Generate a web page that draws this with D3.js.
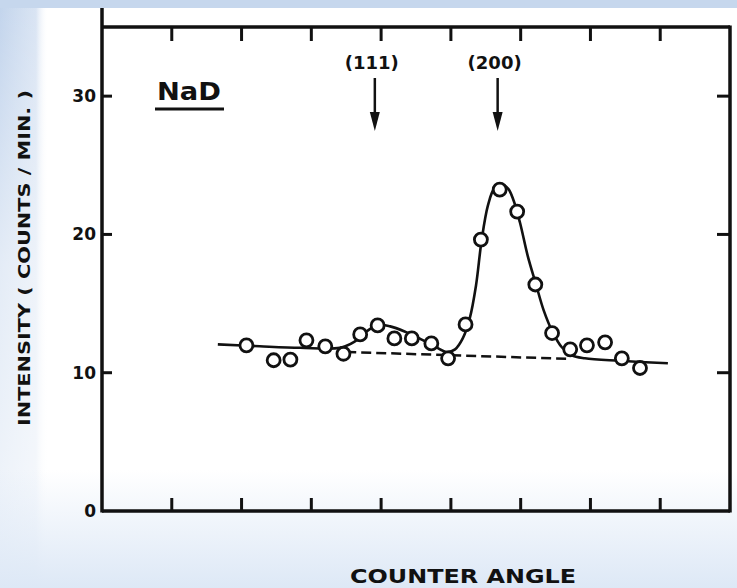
<!DOCTYPE html>
<html>
<head>
<meta charset="utf-8">
<script src="https://cdn.jsdelivr.net/npm/d3@7"></script>
<style>
  body { margin: 0; background: #ffffff; }
  svg { display: block; }
  .lbl { font-family: "DejaVu Sans", sans-serif; font-weight: bold; fill: #111; }
</style>
</head>
<body>
<svg id="chart" width="737" height="588"></svg>
<script>
// measured points (counter angle in tick units, counts/min)
var pointX = [2.07, 2.46, 2.70, 2.93, 3.20, 3.46, 3.70, 3.95, 4.19, 4.44, 4.72, 4.96,
              5.21, 5.43, 5.70, 5.95, 6.21, 6.45, 6.71, 6.95, 7.21, 7.45, 7.71];
var pointY = [11.98, 10.90, 10.95, 12.34, 11.91, 11.37, 12.77, 13.42, 12.48, 12.48, 12.12, 11.04,
              13.49, 19.63, 23.24, 21.65, 16.38, 12.87, 11.69, 11.98, 12.20, 11.04, 10.34];

// hand drawn fit curve
var curveX = [1.66, 2.26, 2.84, 3.41, 3.62, 3.77, 3.95, 4.13, 4.35, 4.56, 4.77, 4.94, 5.06,
              5.17, 5.27, 5.36, 5.44, 5.53, 5.62, 5.72, 5.82, 5.90, 5.99, 6.10, 6.22, 6.33,
              6.46, 6.59, 6.73, 6.92, 7.42, 8.11];
var curveY = [12.05, 11.91, 11.80, 11.80, 12.25, 12.90, 13.45, 13.35, 12.95, 12.45, 11.90, 11.50, 11.69,
              12.48, 13.93, 16.31, 19.56, 22.08, 23.31, 23.60, 23.31, 22.44, 20.86, 18.47, 16.38, 14.51,
              12.92, 11.84, 11.26, 11.04, 10.86, 10.68];

// dashed background under the peaks
var baseX = [3.5, 6.7];
var baseY = [11.5, 11.0];

var yTicks = [0, 10, 20, 30];
var xTicks = [1, 2, 3, 4, 5, 6, 7, 8];

var peakLabels = ["(111)", "(200)"];
var peakX = [3.91, 5.67];

var svg = d3.select("#chart");

// slide background
var defs = svg.append("defs");
var gSide = defs.append("linearGradient").attr("id", "side").attr("x1", 0).attr("y1", 0).attr("x2", 1).attr("y2", 0);
gSide.append("stop").attr("offset", "0").attr("stop-color", "#c2d4ec").attr("stop-opacity", 1);
gSide.append("stop").attr("offset", "0.75").attr("stop-color", "#c8d8ee").attr("stop-opacity", 0.7);
gSide.append("stop").attr("offset", "1").attr("stop-color", "#ffffff").attr("stop-opacity", 0);
var gFade = defs.append("linearGradient").attr("id", "fade").attr("x1", 0).attr("y1", 0).attr("x2", 0).attr("y2", 1);
gFade.append("stop").attr("offset", "0").attr("stop-color", "#ffffff").attr("stop-opacity", 0);
gFade.append("stop").attr("offset", "0.45").attr("stop-color", "#ffffff").attr("stop-opacity", 0.55);
gFade.append("stop").attr("offset", "1").attr("stop-color", "#ffffff").attr("stop-opacity", 0.8);
var gBottom = defs.append("linearGradient").attr("id", "bottom").attr("x1", 0).attr("y1", 0).attr("x2", 0).attr("y2", 1);
gBottom.append("stop").attr("offset", "0").attr("stop-color", "#dde8f6").attr("stop-opacity", 0);
gBottom.append("stop").attr("offset", "1").attr("stop-color", "#dde8f6").attr("stop-opacity", 1);

svg.append("rect").attr("x", 0).attr("y", 0).attr("width", 48).attr("height", 588).attr("fill", "url(#side)");
svg.append("rect").attr("x", 0).attr("y", 0).attr("width", 48).attr("height", 588).attr("fill", "url(#fade)");
svg.append("rect").attr("x", 0).attr("y", 470).attr("width", 737).attr("height", 118).attr("fill", "url(#bottom)");
svg.append("rect").attr("x", 0).attr("y", 0).attr("width", 737).attr("height", 8).attr("fill", "#c6d7ed");

// plot box (window.top is reserved, so keep these in an object)
var box = { left: 102, right: 730, top: 27, bottom: 511 };

var x = d3.scaleLinear().domain([0, 9]).range([box.left, box.right]);
var y = d3.scaleLinear().domain([0, 35]).range([box.bottom, box.top]);

var ink = "#111";

// frame
var frame = svg.append("g").attr("fill", "none").attr("stroke", ink).attr("stroke-width", 3.5);
frame.append("line").attr("x1", box.left).attr("x2", box.left).attr("y1", 8).attr("y2", box.bottom + 1.5);
frame.append("line").attr("x1", box.left).attr("x2", box.right).attr("y1", box.bottom).attr("y2", box.bottom);
frame.append("line").attr("x1", box.left).attr("x2", box.right).attr("y1", box.top).attr("y2", box.top);
frame.append("line").attr("x1", box.right).attr("x2", box.right).attr("y1", box.top - 1.5).attr("y2", box.bottom + 1.5);

// ticks, pointing inwards
var ticks = svg.append("g").attr("stroke", ink).attr("stroke-width", 3);
ticks.selectAll(".xb").data(xTicks).join("line")
  .attr("x1", d => x(d)).attr("x2", d => x(d))
  .attr("y1", box.bottom).attr("y2", box.bottom - 13);
ticks.selectAll(".xt").data(xTicks).join("line")
  .attr("x1", d => x(d)).attr("x2", d => x(d))
  .attr("y1", box.top).attr("y2", box.top + 14);
ticks.selectAll(".yl").data(yTicks.slice(1)).join("line")
  .attr("x1", box.left).attr("x2", box.left + 10)
  .attr("y1", d => y(d)).attr("y2", d => y(d));
ticks.selectAll(".yr").data(yTicks.slice(1)).join("line")
  .attr("x1", box.right).attr("x2", box.right - 13)
  .attr("y1", d => y(d)).attr("y2", d => y(d));

svg.selectAll(".ylab").data(yTicks).join("text")
  .attr("class", "lbl")
  .attr("x", box.left - 6)
  .attr("y", d => y(d) + 6)
  .attr("text-anchor", "end")
  .attr("font-size", 17)
  .text(d => d);

// dashed background line
svg.append("path")
  .datum(d3.range(baseX.length))
  .attr("fill", "none").attr("stroke", ink).attr("stroke-width", 2.5)
  .attr("stroke-dasharray", "10,5")
  .attr("d", d3.line().x(i => x(baseX[i])).y(i => y(baseY[i])));

// fit curve
svg.append("path")
  .datum(d3.range(curveX.length))
  .attr("fill", "none").attr("stroke", ink).attr("stroke-width", 2.6)
  .attr("d", d3.line().x(i => x(curveX[i])).y(i => y(curveY[i])).curve(d3.curveCatmullRom));

// data points
svg.selectAll(".pt").data(d3.range(pointX.length)).join("circle")
  .attr("cx", i => x(pointX[i]))
  .attr("cy", i => y(pointY[i]))
  .attr("r", 6.5)
  .attr("fill", "#fff").attr("stroke", ink).attr("stroke-width", 2.8);

// peak markers
peakX.forEach(function(p, i) {
  var px = x(p);
  svg.append("text").attr("class", "lbl")
    .attr("x", px - 3).attr("y", 69)
    .attr("text-anchor", "middle").attr("font-size", 18)
    .text(peakLabels[i]);
  svg.append("line").attr("x1", px).attr("x2", px).attr("y1", 78).attr("y2", 116)
    .attr("stroke", ink).attr("stroke-width", 2.5);
  svg.append("path")
    .attr("d", `M${px - 5},${112} L${px + 5},${112} L${px},${131} Z`)
    .attr("fill", ink);
});

// sample label
svg.append("text").attr("class", "lbl")
  .attr("x", 157).attr("y", 100).attr("font-size", 25)
  .attr("textLength", 64).attr("lengthAdjust", "spacingAndGlyphs")
  .text("NaD");
svg.append("line").attr("x1", 155).attr("x2", 224).attr("y1", 109).attr("y2", 109)
  .attr("stroke", ink).attr("stroke-width", 3);

// axis titles
svg.append("text").attr("class", "lbl")
  .attr("transform", "translate(30,258) rotate(-90)")
  .attr("text-anchor", "middle").attr("font-size", 16)
  .attr("textLength", 336).attr("lengthAdjust", "spacingAndGlyphs")
  .text("INTENSITY ( COUNTS / MIN. )");

svg.append("text").attr("class", "lbl")
  .attr("x", 463).attr("y", 583)
  .attr("text-anchor", "middle").attr("font-size", 19)
  .attr("textLength", 226).attr("lengthAdjust", "spacingAndGlyphs")
  .text("COUNTER ANGLE");
</script>
</body>
</html>
